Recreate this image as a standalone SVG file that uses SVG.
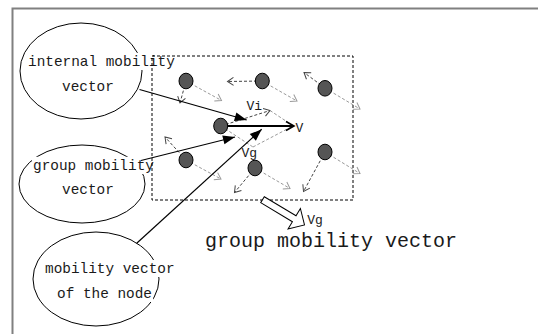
<svg xmlns="http://www.w3.org/2000/svg" width="538" height="334" viewBox="0 0 538 334">
<defs>
<style>
.lbl{font-family:"Liberation Mono","Courier New",monospace;font-size:14.4px;fill:#1a1a1a}
.sm{font-family:"Liberation Mono","Courier New",monospace;font-size:13px;fill:#1a1a1a}
.big{font-family:"Liberation Mono","Courier New",monospace;font-size:20px;fill:#1a1a1a}
.ell{fill:none;stroke:#000;stroke-width:1}
.bg{fill:#fff}
.node{fill:#555;stroke:#000;stroke-width:1}
.dk{fill:none;stroke:#444;stroke-width:1;stroke-dasharray:3 2}
.lt{fill:none;stroke:#9a9a9a;stroke-width:1;stroke-dasharray:3 2}
.blk{fill:none;stroke:#000;stroke-width:1.2}
</style>
<marker id="mdk" markerUnits="userSpaceOnUse" markerWidth="10" markerHeight="10" refX="6" refY="4" orient="auto" overflow="visible"><path d="M0,0 L6,4 L0,8" fill="none" stroke="#444" stroke-width="1"/></marker>
<marker id="mlt" markerUnits="userSpaceOnUse" markerWidth="10" markerHeight="10" refX="6" refY="4" orient="auto" overflow="visible"><path d="M0,0 L6,4 L0,8" fill="none" stroke="#9a9a9a" stroke-width="1"/></marker>
<marker id="mblk" markerUnits="userSpaceOnUse" markerWidth="14" markerHeight="10" refX="12" refY="4.5" orient="auto" overflow="visible"><path d="M0,0 L12,4.5 L0,9 z" fill="#000"/></marker>
<marker id="mv" markerUnits="userSpaceOnUse" markerWidth="12" markerHeight="12" refX="8" refY="4.5" orient="auto" overflow="visible"><path d="M0,0 L8,4.5 L0,9" fill="none" stroke="#000" stroke-width="1.6"/></marker>
</defs>
<rect x="0" y="0" width="538" height="334" fill="#fff"/>
<path d="M12.5,334 V8.5 H538" fill="none" stroke="#808080" stroke-width="2"/>

<g id="ellipse-internal">
<ellipse class="ell" cx="81" cy="71" rx="61" ry="48"/>
<rect class="bg" x="27" y="53" width="149" height="17"/>
<rect class="bg" x="61" y="78" width="53" height="17"/>
<text class="lbl" x="28" y="66">internal mobility</text>
<text class="lbl" x="62" y="91">vector</text>
</g>
<g id="ellipse-group">
<ellipse class="ell" cx="82" cy="184" rx="63" ry="39"/>
<rect class="bg" x="32" y="157" width="124" height="17"/>
<rect class="bg" x="61" y="181" width="53" height="17"/>
<text class="lbl" x="33" y="170">group mobility</text>
<text class="lbl" x="62" y="194">vector</text>
</g>
<g id="ellipse-node">
<ellipse class="ell" cx="96" cy="279" rx="63" ry="47"/>
<rect class="bg" x="44" y="260" width="132" height="17"/>
<rect class="bg" x="56" y="285" width="97" height="17"/>
<text class="lbl" x="45" y="273">mobility vector</text>
<text class="lbl" x="57" y="298">of the node</text>
</g>

<g id="group-box">
<rect x="152" y="56" width="201" height="144" fill="none" stroke="#000" stroke-width="1" stroke-dasharray="3 2"/>
</g>

<g id="connectors">
<line class="dk" x1="186" y1="81" x2="180" y2="103" marker-end="url(#mdk)"/>
<line class="lt" x1="186" y1="81" x2="221.5" y2="100.5" marker-end="url(#mlt)"/>
<line class="dk" x1="262" y1="81" x2="227.5" y2="81.5" marker-end="url(#mdk)"/>
<line class="lt" x1="262" y1="81" x2="297" y2="101" marker-end="url(#mlt)"/>
<line class="dk" x1="325" y1="88" x2="304" y2="72.5" marker-end="url(#mdk)"/>
<line class="lt" x1="325" y1="88" x2="360" y2="109" marker-end="url(#mlt)"/>
<line class="dk" x1="221" y1="126" x2="270" y2="110.5" marker-end="url(#mdk)"/>
<line class="lt" x1="270" y1="110.5" x2="293" y2="125.7"/>
<line class="lt" x1="221" y1="126" x2="253" y2="147"/>
<line class="lt" x1="253" y1="147" x2="293" y2="126"/>
<line class="dk" x1="186" y1="160" x2="165" y2="137" marker-end="url(#mdk)"/>
<line class="lt" x1="186" y1="160" x2="221" y2="179" marker-end="url(#mlt)"/>
<line class="dk" x1="255" y1="168" x2="234.5" y2="192.5" marker-end="url(#mdk)"/>
<line class="lt" x1="255" y1="168" x2="290" y2="188.5" marker-end="url(#mlt)"/>
<line class="dk" x1="325" y1="152" x2="303.5" y2="191.5" marker-end="url(#mdk)"/>
<line class="lt" x1="325" y1="152" x2="360" y2="173.5" marker-end="url(#mlt)"/>
<line x1="227" y1="126" x2="294" y2="126" stroke="#000" stroke-width="2" marker-end="url(#mv)"/>
<line class="blk" x1="139.5" y1="89.5" x2="246.7" y2="120" marker-end="url(#mblk)"/>
<line class="blk" x1="141" y1="160.5" x2="235" y2="137" marker-end="url(#mblk)"/>
<line class="blk" x1="136.7" y1="243.3" x2="261.7" y2="129.3" marker-end="url(#mblk)"/>
<polygon points="0,-3.5 37,-3.5 37,-12 49,0 37,12 37,3.5 0,3.5" transform="translate(262.5,199.7) rotate(31)" fill="#fff" stroke="#000" stroke-width="1"/>
</g>

<g id="node-1"><ellipse class="node" cx="186" cy="81" rx="7" ry="7.8"/></g>
<g id="node-2"><ellipse class="node" cx="262.3" cy="81" rx="7" ry="7.8"/></g>
<g id="node-3"><ellipse class="node" cx="325" cy="88.3" rx="7" ry="7.8"/></g>
<g id="node-4"><ellipse class="node" cx="220.7" cy="126" rx="7" ry="7.8"/></g>
<g id="node-5"><ellipse class="node" cx="186" cy="160" rx="7" ry="7.8"/></g>
<g id="node-6"><ellipse class="node" cx="255" cy="168" rx="7" ry="7.8"/></g>
<g id="node-7"><ellipse class="node" cx="325" cy="152" rx="7" ry="7.8"/></g>

<g id="labels">
<text class="sm" x="246.5" y="110">Vi</text>
<text class="sm" x="295.5" y="131.5">V</text>
<text class="sm" x="241.5" y="157">Vg</text>
<text class="sm" x="307.3" y="224">Vg</text>
<text class="big" x="205" y="247">group mobility vector</text>
</g>
</svg>
